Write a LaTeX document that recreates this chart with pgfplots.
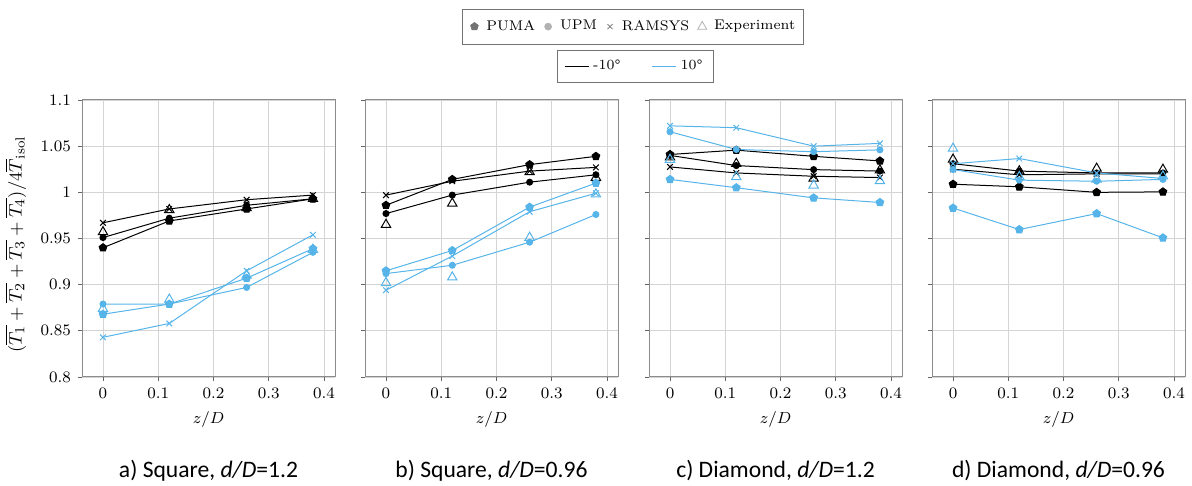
\documentclass[border=0pt]{standalone}
\usepackage{fontspec}
\usepackage{pgfplots}
\pgfplotsset{compat=1.18}
\usepackage{pgfplotstable}
\newfontfamily\carlito{Carlito}
\definecolor{sky}{RGB}{86,180,233}

% columns: n = -10 deg (black), p = +10 deg (blue)
\pgfplotstableread{
z    PUMAn UPMn RAMn EXPn PUMAp UPMp RAMp EXPp
0    0.940 0.951 0.967 0.957 0.868 0.879 0.843 0.874
0.12 0.969 0.972 0.982 0.981 0.879 0.879 0.858 0.884
0.26 0.982 0.986 0.992 0.983 0.907 0.897 0.915 0.910
0.38 0.993 0.993 0.997 0.993 0.939 0.935 0.954 0.938
}\tabA
\pgfplotstableread{
z    PUMAn UPMn RAMn EXPn PUMAp UPMp RAMp EXPp
0    0.986 0.977 0.997 0.965 0.915 0.912 0.894 0.902
0.12 1.014 0.997 1.012 0.988 0.937 0.921 0.931 0.908
0.26 1.030 1.011 1.023 1.022 0.984 0.946 0.979 0.951
0.38 1.039 1.019 1.027 1.016 1.010 0.976 0.999 0.998
}\tabB
\pgfplotstableread{
z    PUMAn UPMn RAMn EXPn PUMAp UPMp RAMp EXPp
0    1.041 1.040 1.0275 1.038 1.014 1.0656 1.072 1.0355
0.12 1.0457 1.029 1.021 1.031 1.005 1.0464 1.070 1.0167
0.26 1.039 1.0246 1.0174 1.015 0.994 1.044 1.050 1.0076
0.38 1.034 1.023 1.016 1.024 0.989 1.046 1.053 1.0123
}\tabC
\pgfplotstableread{
z    PUMAn UPMn RAMn EXPn PUMAp UPMp RAMp EXPp
0    1.0088 1.031 1.025 1.0356 0.983 1.0247 1.031 1.0475
0.12 1.006 1.023 1.019 1.023 0.9597 1.0132 1.0366 1.0168
0.26 1.000 1.021 1.020 1.0258 0.977 1.012 1.021 1.014
0.38 1.0005 1.021 1.020 1.0247 0.9507 1.014 1.015 1.0175
}\tabD

\pgfplotsset{
  panel/.style={
    scale only axis, width=126.5pt, height=138.5pt,
    xmin=-0.038, xmax=0.42, ymin=0.8, ymax=1.1,
    xtick={0,0.1,0.2,0.3,0.4}, ytick={0.8,0.85,0.9,0.95,1,1.05,1.1},
    grid=major, major grid style={black!17, line width=0.4pt},
    axis line style={black!45, line width=0.5pt},
    tick align=outside, tick pos=left, major tick length=2pt,
    tick style={black!60, line width=0.4pt},
    tick label style={font=\fontsize{7.8}{9}\selectfont},
    xlabel={$z/D$},
    xlabel style={font=\fontsize{8.5}{10}\selectfont, at={(axis description cs:0.5,-0.152)}, anchor=center},
    anchor=north west, clip=false,
  },
  sN/.style={black, line width=0.5pt},
  sP/.style={sky, line width=0.5pt},
  pum/.style={mark=pentagon*, mark size=2pt},
  upm/.style={mark=*, mark size=1.5pt},
  ram/.style={mark=x, mark size=2pt},
  exm/.style={only marks, mark=triangle, mark size=2.7pt},
  mleg/.style={legend image code/.code={\path[draw=none] (0cm,0cm) -- (0.28cm,0cm); \draw[##1] plot coordinates {(0.14cm,0cm)};}},
  lleg/.style={legend image code/.code={\draw[##1] (0cm,0cm) -- (0.42cm,0cm);}},
}

\newcommand{\panelplots}[1]{%
  \addplot[sN, pum] table[x=z, y=PUMAn] {#1};
  \addplot[sN, upm] table[x=z, y=UPMn] {#1};
  \addplot[sN, ram] table[x=z, y=RAMn] {#1};
  \addplot[sN, exm] table[x=z, y=EXPn] {#1};
  \addplot[sP, pum] table[x=z, y=PUMAp] {#1};
  \addplot[sP, upm] table[x=z, y=UPMp] {#1};
  \addplot[sP, ram] table[x=z, y=RAMp] {#1};
  \addplot[sP, exm] table[x=z, y=EXPp] {#1};
}

\begin{document}
\begin{tikzpicture}
\useasboundingbox (0,0) rectangle (596pt,-243pt);

\begin{axis}[panel, name=pa, at={(41pt,-50pt)},
  ylabel={$(\overline{T_1}+\overline{T_2}+\overline{T_3}+\overline{T_4})/4\overline{T}_{\mathrm{isol}}$},
  ylabel style={font=\fontsize{9.5}{11}\selectfont, at={(axis description cs:-0.262,0.48)}, anchor=center}]
\panelplots{\tabA}
\end{axis}

\begin{axis}[panel, name=pb, at={(182.5pt,-50pt)}, yticklabels={},
  legend columns=4,
  legend style={at={(axis description cs:1.059,1.265)}, anchor=center, draw=black!55,
    font=\fontsize{7}{8}\selectfont, inner xsep=2pt, inner ysep=3.5pt,
    /tikz/every even column/.append style={column sep=0.5pt}}]
\addlegendimage{only marks, mark=pentagon*, black!55, mark size=2pt, mleg}\addlegendentry{PUMA}
\addlegendimage{only marks, mark=*, black!30, mark size=1.7pt, mleg}\addlegendentry{UPM}
\addlegendimage{only marks, mark=x, black!55, mark size=1.8pt, mleg}\addlegendentry{RAMSYS}
\addlegendimage{only marks, mark=triangle, black!30, mark size=2.6pt, mleg}\addlegendentry{Experiment}
\panelplots{\tabB}
\end{axis}

\begin{axis}[panel, name=pc, at={(324.5pt,-50pt)}, yticklabels={},
  legend columns=2,
  legend style={at={(axis description cs:-0.054,1.121)}, anchor=center, draw=black!55,
    font=\fontsize{7}{8}\selectfont, inner xsep=3.5pt, inner ysep=3pt,
    /tikz/every even column/.append style={column sep=13.5pt}}]
\addlegendimage{black, line width=0.6pt, lleg}\addlegendentry{-10°}
\addlegendimage{sky, line width=0.6pt, lleg}\addlegendentry{10°}
\panelplots{\tabC}
\end{axis}

\begin{axis}[panel, name=pd, at={(466pt,-50pt)}, yticklabels={}]
\panelplots{\tabD}
\end{axis}

\begin{scope}[every node/.style={font=\carlito\fontsize{11.8}{14}\selectfont, anchor=base}]
\node at ([yshift=-50.5pt]pa.south) {a) Square, \textit{d/D}=1.2};
\node at ([yshift=-50.5pt]pb.south) {b) Square, \textit{d/D}=0.96};
\node at ([yshift=-50.5pt]pc.south) {c) Diamond, \textit{d/D}=1.2};
\node at ([yshift=-50.5pt]pd.south) {d) Diamond, \textit{d/D}=0.96};
\end{scope}
\end{tikzpicture}
\end{document}
